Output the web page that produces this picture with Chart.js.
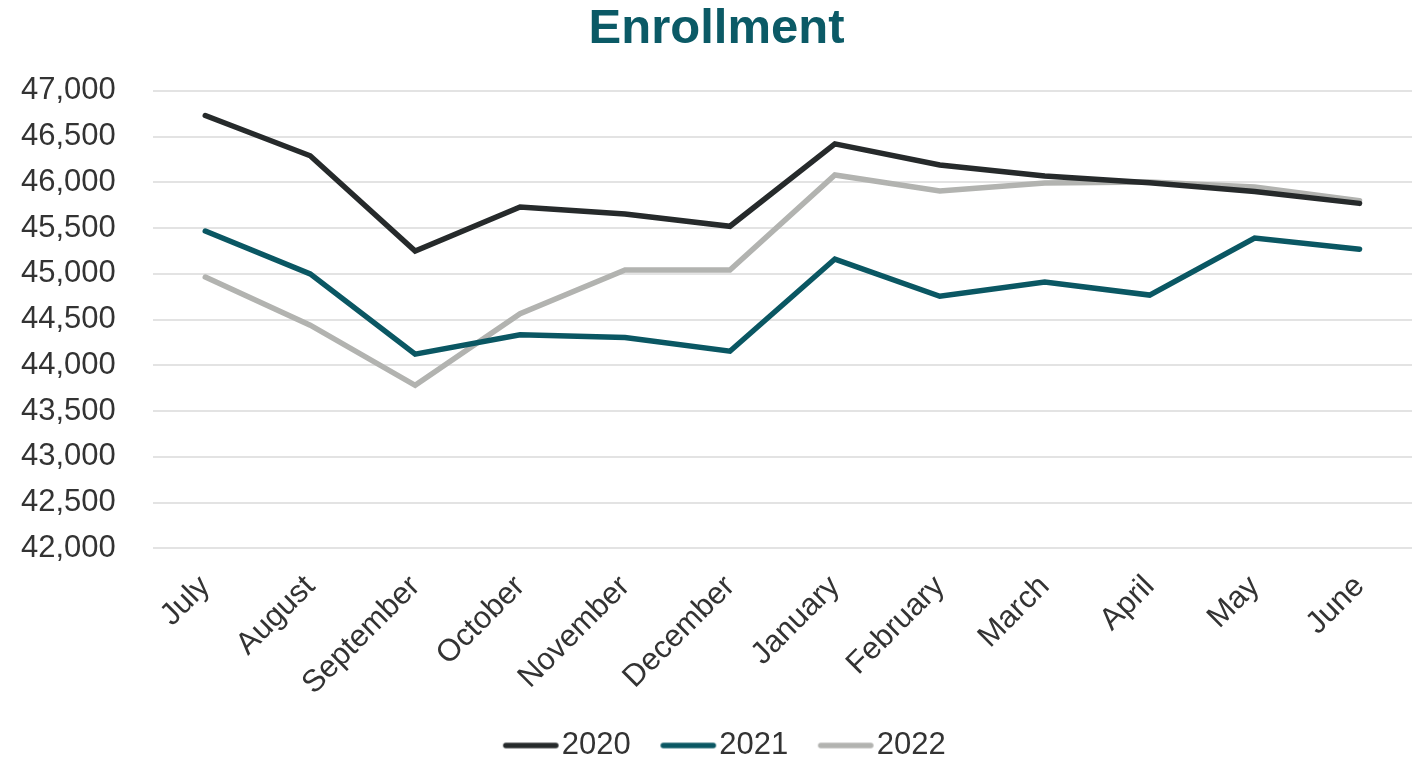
<!DOCTYPE html>
<html>
<head>
<meta charset="utf-8">
<script src="https://cdn.jsdelivr.net/npm/chart.js@4"></script>
<style>
html,body{margin:0;padding:0;background:#fff;}
#wrap{width:1415px;height:760px;}
</style>
</head>
<body>
<div id="wrap"><canvas id="c" width="1415" height="760"></canvas></div>
<script>
const months = ["July","August","September","October","November","December","January","February","March","April","May","June"];
const series2020 = [46730,46290,45250,45730,45655,45520,46420,46190,46070,45995,45900,45770];
const series2021 = [45468,45000,44123,44335,44305,44155,45162,44755,44910,44768,45392,45270];
const series2022 = [44965,44440,43783,44565,45042,45042,46081,45906,45993,46004,45950,45800];
const seriesNames = ["2020","2021","2022"];
const yTicks = {min:42000, max:47000, step:500};

const colors = ["#262a2b","#0a5763","#b2b3b0"];
const FONT = 'Liberation Sans, Arial, sans-serif';

// legend swatch: a line image, offset so it sits close to the label text
function swatch(color){
  const W = 110, H = 10;
  const cv = document.createElement('canvas');
  cv.width = W; cv.height = H;
  const g = cv.getContext('2d');
  g.strokeStyle = color; g.lineWidth = 5.5; g.lineCap = 'round';
  g.beginPath(); g.moveTo(36, H/2); g.lineTo(86, H/2); g.stroke();
  return cv;
}

const data = {
  labels: months,
  datasets: [series2020, series2021, series2022].map((s,i)=>({
    label: seriesNames[i],
    data: s,
    borderColor: colors[i],
    backgroundColor: colors[i],
    borderWidth: 5.5,
    borderCapStyle: 'round',
    borderJoinStyle: 'miter',
    pointRadius: 0,
    pointStyle: swatch(colors[i]),
    tension: 0,
    fill: false
  }))
};

const legendShift = {
  id: 'legendShift',
  afterLayout(chart) {
    if (chart.legend) { chart.legend.left += 8; chart.legend.right += 8; }
  }
};

new Chart(document.getElementById('c'), {
  type: 'line',
  data: data,
  plugins: [legendShift],
  options: {
    responsive: false,
    animation: false,
    layout: {padding: {left: 21, right: 3, top: 0, bottom: 0}},
    plugins: {
      title: {
        display: true,
        text: 'Enrollment',
        color: '#0b5a66',
        font: {family: FONT, size: 49, weight: 'bold'},
        padding: {top: 0, bottom: 32}
      },
      legend: {
        position: 'bottom',
        maxHeight: 60,
        labels: {
          usePointStyle: true,
          pointStyleWidth: 43,
          boxHeight: 20,
          color: '#333333',
          font: {family: FONT, size: 31},
          padding: 30
        }
      },
      tooltip: {enabled: false}
    },
    scales: {
      x: {
        offset: true,
        grid: {display: false, drawTicks: false},
        border: {display: false},
        afterFit: (s) => { s.height -= 22; },
        ticks: {
          color: '#333333',
          font: {family: FONT, size: 31},
          maxRotation: 45, minRotation: 45,
          padding: 20
        }
      },
      y: {
        min: yTicks.min, max: yTicks.max,
        grid: {color: '#e3e3e3', lineWidth: 2, drawTicks: false},
        border: {display: false},
        afterFit: (s) => { s.width -= 37; },
        ticks: {
          stepSize: yTicks.step,
          color: '#333333',
          font: {family: FONT, size: 31},
          padding: 37,
          callback: v => v.toLocaleString('en-US')
        }
      }
    }
  }
});
</script>
</body>
</html>
